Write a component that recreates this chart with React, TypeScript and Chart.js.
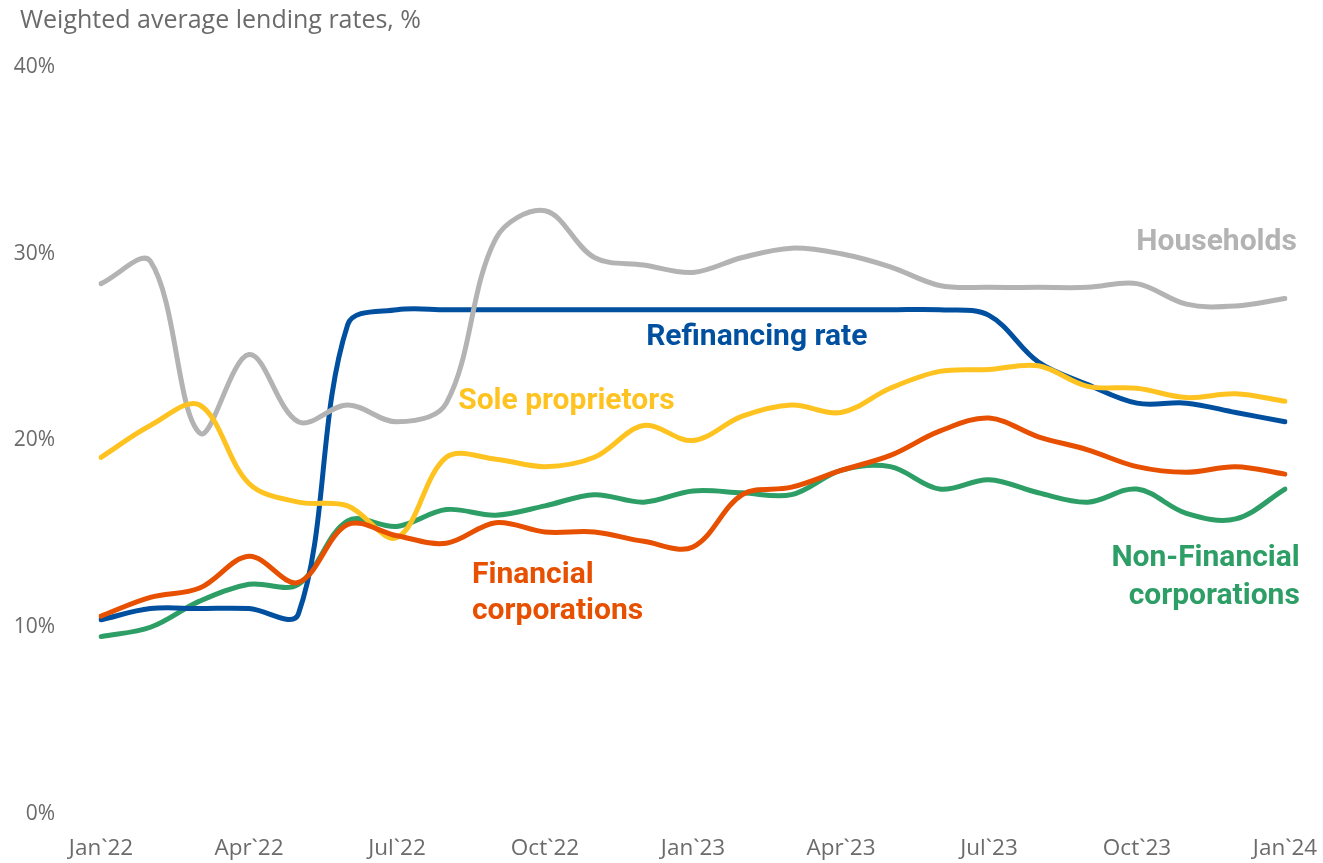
import React, { useEffect, useRef } from "react";
import { Chart, registerables } from "chart.js";

Chart.register(...registerables);

const months = [
  "Jan`22", "Feb`22", "Mar`22", "Apr`22", "May`22", "Jun`22", "Jul`22", "Aug`22", "Sep`22", "Oct`22", "Nov`22", "Dec`22",
  "Jan`23", "Feb`23", "Mar`23", "Apr`23", "May`23", "Jun`23", "Jul`23", "Aug`23", "Sep`23", "Oct`23", "Nov`23", "Dec`23",
  "Jan`24",
];

const households = [28.4, 29.6, 20.4, 24.6, 21.0, 21.9, 21.0, 22.0, 30.8, 32.3, 29.8, 29.4, 29.0, 29.8, 30.3, 30.0, 29.3, 28.3, 28.2, 28.2, 28.2, 28.4, 27.3, 27.2, 27.6];
const refinancingRate = [10.4, 11.0, 11.0, 11.0, 10.7, 26.2, 27.0, 27.0, 27.0, 27.0, 27.0, 27.0, 27.0, 27.0, 27.0, 27.0, 27.0, 27.0, 26.7, 24.2, 23.0, 22.0, 22.0, 21.5, 21.0];
const soleProprietors = [19.1, 20.8, 21.9, 17.7, 16.7, 16.5, 14.8, 19.1, 19.0, 18.6, 19.1, 20.8, 20.0, 21.3, 21.9, 21.5, 22.8, 23.7, 23.8, 24.0, 22.9, 22.8, 22.3, 22.5, 22.1];
const financialCorporations = [10.6, 11.6, 12.1, 13.8, 12.4, 15.5, 14.9, 14.5, 15.6, 15.1, 15.1, 14.6, 14.3, 17.1, 17.5, 18.4, 19.2, 20.5, 21.2, 20.2, 19.5, 18.6, 18.3, 18.6, 18.2];
const nonFinancialCorporations = [9.5, 10.0, 11.4, 12.3, 12.3, 15.7, 15.4, 16.3, 16.0, 16.5, 17.1, 16.7, 17.3, 17.2, 17.1, 18.4, 18.6, 17.4, 17.9, 17.2, 16.7, 17.4, 16.1, 15.8, 17.4];

const yTicks = [0, 10, 20, 30, 40];
const titleText = "Weighted average lending rates, %";

const GRAY = "#B3B3B3";
const BLUE = "#00509F";
const YELLOW = "#FFC321";
const ORANGE = "#E65000";
const GREEN = "#2E9E67";
const TEXT = "#6B6B6B";

export default function App() {
  const canvasRef = useRef<HTMLCanvasElement | null>(null);

  useEffect(() => {
    if (!canvasRef.current) return;

    const annotations = [
      { lines: ["Households"], x: 24.24, ys: [30.58], align: "right", color: GRAY },
      { lines: ["Refinancing rate"], x: 11.05, ys: [25.5], align: "left", color: BLUE },
      { lines: ["Sole proprietors"], x: 7.24, ys: [22.07], align: "left", color: YELLOW },
      { lines: ["Financial", "corporations"], x: 7.52, ys: [12.75, 10.82], align: "left", color: ORANGE },
      { lines: ["Non-Financial", "corporations"], x: 24.3, ys: [13.66, 11.62], align: "right", color: GREEN },
    ];

    const labelPlugin = {
      id: "seriesLabels",
      afterDatasetsDraw(chart: any) {
        const ctx = chart.ctx;
        const xs = chart.scales.x;
        const ys = chart.scales.y;
        ctx.save();
        ctx.font = "bold 30px Roboto";
        ctx.textBaseline = "middle";
        annotations.forEach((a) => {
          ctx.fillStyle = a.color;
          ctx.textAlign = a.align as CanvasTextAlign;
          a.lines.forEach((line, i) => {
            ctx.fillText(line, xs.getPixelForValue(a.x), ys.getPixelForValue(a.ys[i]));
          });
        });
        ctx.font = "25px 'Open Sans'";
        ctx.fillStyle = TEXT;
        ctx.textAlign = "left";
        ctx.textBaseline = "alphabetic";
        ctx.fillText(titleText, 20, 28);
        ctx.restore();
      },
    };

    const mk = (label: string, data: number[], color: string) => ({
      label,
      data,
      borderColor: color,
      backgroundColor: color,
      borderWidth: 5,
      pointRadius: 0,
      pointHoverRadius: 0,
      tension: 0.35,
      fill: false,
      borderCapStyle: "round" as const,
      borderJoinStyle: "round" as const,
    });

    const chart = new Chart(canvasRef.current, {
      type: "line",
      data: {
        labels: months,
        datasets: [
          mk("Financial corporations", financialCorporations, ORANGE),
          mk("Sole proprietors", soleProprietors, YELLOW),
          mk("Households", households, GRAY),
          mk("Refinancing rate", refinancingRate, BLUE),
          mk("Non-Financial corporations", nonFinancialCorporations, GREEN),
        ],
      },
      options: {
        animation: false,
        responsive: false,
        maintainAspectRatio: false,
        layout: { padding: { top: 67, right: 38, left: 0, bottom: 0 } },
        plugins: {
          legend: { display: false },
          title: { display: false },
          tooltip: { enabled: false },
        },
        scales: {
          x: {
            type: "category",
            offset: false,
            grid: { display: false, drawTicks: false },
            border: { display: false },
            afterFit: (scale: any) => {
              scale.height = 49;
              scale.paddingLeft = 0;
              scale.paddingRight = 0;
            },
            ticks: {
              autoSkip: false,
              maxRotation: 0,
              minRotation: 0,
              padding: 21,
              color: TEXT,
              font: { family: "'Open Sans'", size: 22.5 },
              callback: function (this: any, value: any, index: number) {
                return index % 3 === 0 ? months[index] : "";
              },
            },
          },
          y: {
            min: yTicks[0],
            max: yTicks[yTicks.length - 1],
            grid: { display: false, drawTicks: false },
            border: { display: false },
            afterFit: (scale: any) => {
              scale.width = 101;
              scale.paddingTop = 0;
              scale.paddingBottom = 0;
            },
            afterBuildTicks: (scale: any) => {
              scale.ticks = yTicks.map((v) => ({ value: v }));
            },
            ticks: {
              padding: 46,
              color: TEXT,
              font: { family: "'Open Sans'", size: 21 },
              callback: (v: any) => `${v}%`,
            },
          },
        },
      },
      plugins: [labelPlugin],
    });

    return () => chart.destroy();
  }, []);

  return (
    <div style={{ position: "absolute", left: 0, top: 0, width: 1323, height: 863, background: "#fff" }}>
      <canvas ref={canvasRef} width={1323} height={863} style={{ display: "block", width: 1323, height: 863 }} />
    </div>
  );
}
